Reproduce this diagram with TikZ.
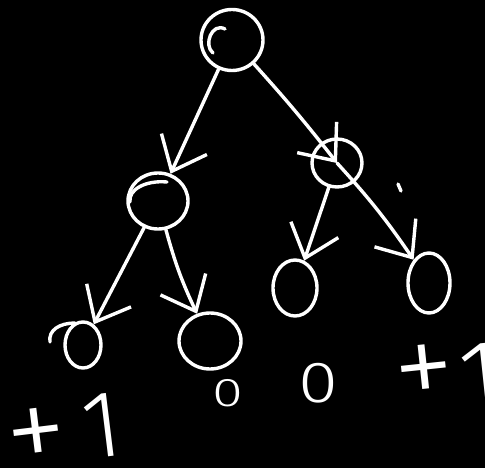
\documentclass[tikz,border=0pt]{standalone}
\usepackage{fontspec}
\newfontfamily\hand{Fira Sans Light}
\usetikzlibrary{arrows.meta,shapes.geometric}
\begin{document}
\begin{tikzpicture}[x=1pt,y=-1pt,
  ink/.style={draw=white, line width=3.4pt, line cap=round, line join=round},
  vertex/.style={ellipse, ink, inner sep=0pt},
  edge/.style={ink, -{Straight Barb[length=30pt,width=50pt]}},
  lbl/.style={text=white, inner sep=0pt, font=\hand}]
\fill[black] (0,0) rectangle (485,468);
\useasboundingbox (0,0) rectangle (485,468);
% tree nodes
\node[vertex, minimum width=62pt, minimum height=61pt] (root) at (232,40) {};
\node[vertex, minimum width=60pt, minimum height=56pt] (L) at (158,201) {};
\node[vertex, minimum width=50pt, minimum height=48pt] (R) at (337,163) {};
\node[vertex, minimum width=36pt, minimum height=46pt] (LL) at (83,345) {};
\node[vertex, minimum width=62pt, minimum height=56pt] (LR) at (210,341) {};
\node[vertex, minimum width=44pt, minimum height=56pt] (RL) at (295,288) {};
\node[vertex, minimum width=42pt, minimum height=60pt] (RR) at (429,283) {};
% stroke hooks
\draw[ink] (225,29) .. controls (212,22) and (203,45) .. (213,53);
\draw[ink] (130,202) .. controls (128,190) and (145,180) .. (167,182);
\draw[ink] (50,342) .. controls (48,330) and (60,323) .. (75,323);
\draw[ink] (398,184) -- (401,191);
% edges
\draw[edge] (root) -- (L);
\draw[edge] (root) to[bend left=2] (R.center);
\draw[edge] (R.center) to[bend left=4] (RR);
\draw[edge] (R) -- (RL);
\draw[edge] (L) -- (LL);
\draw[edge] (L) to[bend right=5] (LR);
% leaf values
\node[lbl, rotate=7] (valA) at (64,434)
  {\raisebox{-7pt}{\fontsize{125}{125}\selectfont+}\hspace{16pt}{\fontsize{95}{95}\selectfont 1}};
\node[lbl, font={\hand\fontsize{40}{40}\selectfont}] (valB) at (228,393) {\scalebox{1.4}[1]{0}};
\node[lbl, font={\hand\fontsize{58}{58}\selectfont}] (valC) at (318,383) {\scalebox{1.25}[1]{0}};
\node[lbl, rotate=6] (valD) at (448,378)
  {{\fontsize{125}{125}\selectfont+}\hspace{4pt}\raisebox{-8pt}{\fontsize{100}{100}\selectfont 1}};
\end{tikzpicture}
\end{document}
